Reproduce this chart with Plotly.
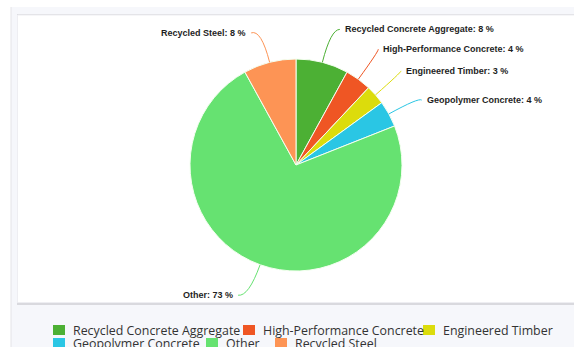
import math
import plotly.graph_objects as go

# Market share of sustainable construction materials
categories = [
    "Recycled Concrete Aggregate",
    "High-Performance Concrete",
    "Engineered Timber",
    "Geopolymer Concrete",
    "Other",
    "Recycled Steel",
]
shares = [8, 4, 3, 4, 73, 8]
colors = ["#4cb034", "#ef5624", "#dcdc0c", "#2ac6e4", "#66e271", "#fd9455"]

W, H = 574, 347
CX, CY, R = 296, 165, 106          # pie centre and radius in pixels
LINE_LEN, LINE_LEN2, TEXT_GAP = 34, 8, 3
# small shifts of each label end so neighbouring labels sit apart
label_nudge = [(1, 0), (-8, -2.5), (-8, -1.5), (-5, 2.5), (-2.5, -1.5), (-2, 3.5)]


def px(x):
    return x / W


def py(y):
    return 1 - y / H


fig = go.Figure()

fig.add_trace(go.Pie(
    labels=categories,
    values=shares,
    sort=False,
    direction="clockwise",
    rotation=0,
    marker=dict(colors=colors, line=dict(color="#f4fff0", width=1)),
    textinfo="none",
    hoverinfo="label+percent",
    showlegend=False,
    domain=dict(x=[px(CX - R), px(CX + R)], y=[py(CY + R), py(CY - R)]),
))

shapes = []
annotations = []

# page background and card
shapes.append(dict(type="rect", xref="paper", yref="paper",
                   x0=px(11), x1=px(W), y0=py(H), y1=py(7),
                   fillcolor="#f6f7fb", line=dict(width=0), layer="below"))
shapes.append(dict(type="line", xref="paper", yref="paper",
                   x0=px(11), x1=px(11), y0=py(H), y1=py(7),
                   line=dict(color="#e4e4e8", width=1), layer="below"))
shapes.append(dict(type="rect", xref="paper", yref="paper",
                   x0=px(17), x1=px(W + 2), y0=py(305), y1=py(14),
                   fillcolor="#d9d9de", line=dict(width=0), layer="below"))
shapes.append(dict(type="rect", xref="paper", yref="paper",
                   x0=px(17.5), x1=px(W + 2), y0=py(302.5), y1=py(15),
                   fillcolor="#ffffff", line=dict(color="#eeeef2", width=1),
                   layer="below"))

# outside labels with curved leader lines
total = sum(shares)
cum = 0
for name, val, col, (ndx, ndy) in zip(categories, shares, colors, label_nudge):
    mid = (cum + val / 2) / total * 2 * math.pi
    cum += val
    sx, sy = math.sin(mid), -math.cos(mid)
    x0, y0 = CX + R * sx, CY + R * sy
    x1, y1 = CX + (R + LINE_LEN) * sx, CY + (R + LINE_LEN) * sy
    side = 1 if sx >= 0 else -1
    x2, y2 = x1 + side * LINE_LEN2 + ndx, y1 + ndy
    path = (f"M {px(x0)},{py(y0)} Q {px(x1)},{py(y1)} {px(x2)},{py(y2)}")
    shapes.append(dict(type="path", xref="paper", yref="paper", path=path,
                       line=dict(color=col, width=1)))
    annotations.append(dict(
        xref="paper", yref="paper",
        x=px(x2 + side * TEXT_GAP), y=py(y2),
        xanchor="left" if side > 0 else "right", yanchor="middle",
        text=f"<b>{name}: {val} %</b>", showarrow=False,
        font=dict(family="Liberation Sans, Arial, sans-serif", size=9,
                  color="#1e1e1e"),
    ))

# legend laid out in two rows beneath the card
legend_slots = [(53, 330), (243, 330), (423, 330),
                (53, 343), (206, 343), (275, 343)]
for (lx, ly), name, col in zip(legend_slots, categories, colors):
    shapes.append(dict(type="rect", xref="paper", yref="paper",
                       x0=px(lx), x1=px(lx + 12), y0=py(ly + 5), y1=py(ly - 5),
                       fillcolor=col, line=dict(width=0)))
    annotations.append(dict(
        xref="paper", yref="paper", x=px(lx + 18), y=py(ly),
        xanchor="left", yanchor="middle", text=name, showarrow=False,
        font=dict(family="Open Sans, sans-serif", size=12.4, color="#333333"),
    ))

fig.update_layout(
    width=W, height=H,
    margin=dict(l=0, r=0, t=0, b=0),
    paper_bgcolor="#ffffff",
    plot_bgcolor="#ffffff",
    shapes=shapes,
    annotations=annotations,
)

fig.write_html("out.html")
